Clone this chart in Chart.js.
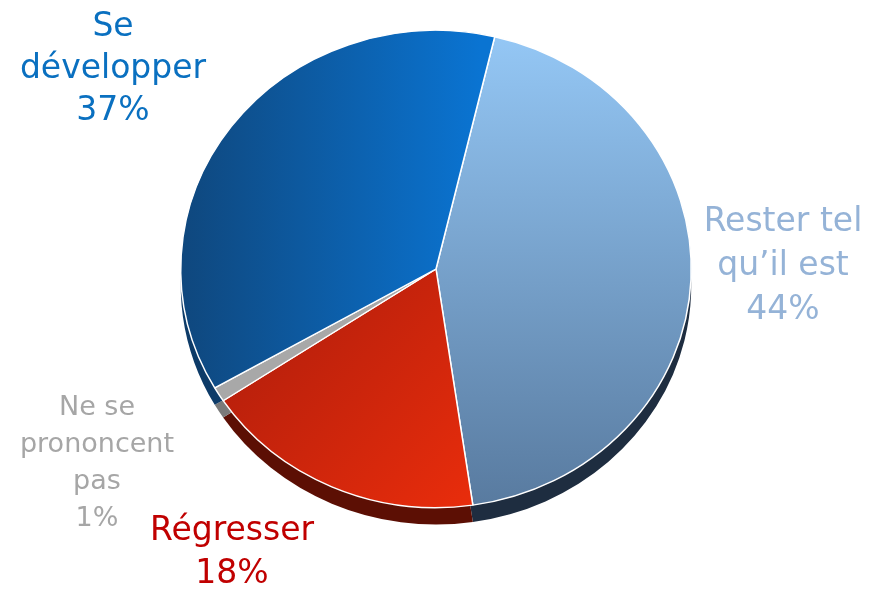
<!DOCTYPE html>
<html>
<head>
<meta charset="utf-8">
<script src="https://cdn.jsdelivr.net/npm/chart.js@4.4.0/dist/chart.umd.min.js"></script>
<style>
  html, body { margin: 0; padding: 0; background: #fff; }
  #wrap { width: 874px; height: 591px; }
</style>
</head>
<body>
<div id="wrap"><canvas id="chart1" width="874" height="591"></canvas></div>
<script>
var labels = ["Rester tel qu\u2019il est", "R\u00e9gresser", "Ne se prononcent pas", "Se d\u00e9velopper"];
var values = [44, 18, 1, 37];
var labelLines = [
  ["Rester tel", "qu\u2019il est", "44%"],
  ["R\u00e9gresser", "18%"],
  ["Ne se", "prononcent", "pas", "1%"],
  ["Se", "d\u00e9velopper", "37%"]
];
var labelColors = ["#95b3d7", "#c00000", "#a6a6a6", "#0a70c0"];
var sideColors = ["#1e2d40", "#5c0f04", "#7a7a7a", "#0d3b68"];

// where the text blocks sit, and their size
var labelPos = [
  { x: 783, y: 222, size: 33, lh: 44 },
  { x: 232, y: 531, size: 33, lh: 43 },
  { x: 97, y: 408, size: 27, lh: 37 },
  { x: 113, y: 27, size: 33, lh: 42 }
];

var squash = 0.935;   // pie is a little flatter than a circle
var depth = 18;

function sliceFill(context) {
  var chart = context.chart;
  var area = chart.chartArea;
  if (!area) return "#888";
  var c = chart.ctx;
  var g;
  switch (context.dataIndex) {
    case 0:
      g = c.createLinearGradient(0, area.top, 0, area.bottom);
      g.addColorStop(0, "#95c8f6");
      g.addColorStop(1, "#587a9f");
      return g;
    case 1:
      g = c.createLinearGradient(area.left + 60, area.top + 300, area.left + 300, area.bottom);
      g.addColorStop(0, "#b21e0c");
      g.addColorStop(1, "#ea2d0c");
      return g;
    case 2:
      return "#a8a8a8";
    default:
      g = c.createLinearGradient(area.left, 0, area.left + 300, 0);
      g.addColorStop(0, "#0f477d");
      g.addColorStop(1, "#0a74d2");
      return g;
  }
}

var pie3d = {
  id: "pie3d",
  beforeDatasetsDraw: function (chart) {
    var c = chart.ctx;
    var meta = chart.getDatasetMeta(0);
    var cy = meta.data[0].y;
    c.save();
    c.translate(0, cy);
    c.scale(1, squash);
    c.translate(0, -cy);
    // side of the pie: same arcs pushed down in dark colours
    meta.data.forEach(function (arc, i) {
      c.save();
      c.beginPath();
      c.moveTo(arc.x, arc.y + depth);
      c.arc(arc.x, arc.y + depth, arc.outerRadius, arc.startAngle, arc.endAngle);
      c.closePath();
      c.fillStyle = sideColors[i];
      c.fill();
      c.restore();
    });
  },
  afterDatasetsDraw: function (chart) {
    chart.ctx.restore();
  },
  afterDraw: function (chart) {
    var c = chart.ctx;
    c.save();
    c.textAlign = "center";
    c.textBaseline = "middle";
    labelLines.forEach(function (lines, i) {
      var p = labelPos[i];
      c.fillStyle = labelColors[i];
      c.font = p.size + "px 'DejaVu Sans'";
      lines.forEach(function (t, k) {
        c.fillText(t, p.x, p.y + k * p.lh);
      });
    });
    c.restore();
  }
};

var ctx = document.getElementById("chart1").getContext("2d");
var chart = new Chart(ctx, {
  type: "pie",
  data: {
    labels: labels,
    datasets: [
      {
        data: values,
        backgroundColor: sliceFill,
        borderColor: "#ffffff",
        borderWidth: 1.5
      }
    ]
  },
  options: {
    responsive: false,
    animation: false,
    rotation: 13.3,
    layout: { padding: { left: 180, right: 182, top: 13, bottom: 66 } },
    plugins: {
      legend: { display: false },
      tooltip: { enabled: false }
    }
  },
  plugins: [pie3d]
});
</script>
</body>
</html>
